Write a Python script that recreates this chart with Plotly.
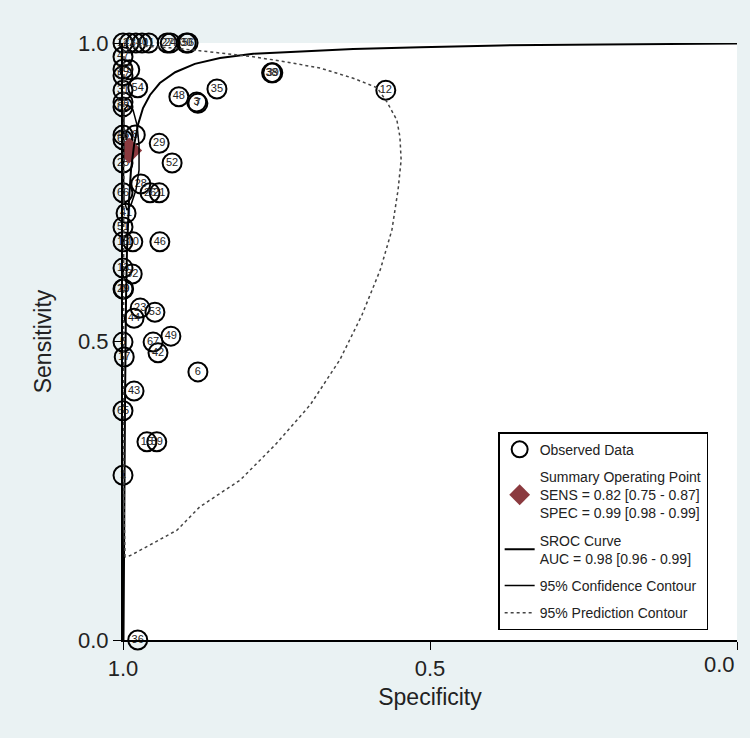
import plotly.graph_objects as go

# Observed studies (label, specificity, sensitivity)
study_labels = ["14", "22", "37", "40", "11", "27", "24", "30", "56",
                "47", "55", "9", "57", "31", "54", "58", "63", "45", "8", "62",
                "25", "66", "41", "51", "18", "10", "13", "32", "20", "19",
                "5", "17", "65", "1",
                "29", "52", "28", "26", "21", "46", "23", "53", "44", "67",
                "42", "49", "6", "43", "15", "59", "36", "48", "3", "7",
                "35", "38", "39", "12"]
study_spec = [1.0, 0.990, 0.979, 0.969, 0.958, 0.928, 0.923, 0.897, 0.894,
              1.0, 1.0, 0.989, 1.0, 1.0, 0.976, 1.0, 1.0, 1.0, 0.980, 1.0,
              1.0, 1.0, 0.995, 1.0, 1.0, 0.984, 1.0, 0.985, 1.0, 0.999,
              1.0, 0.998, 1.0, 1.0,
              0.941, 0.920, 0.971, 0.956, 0.941, 0.940, 0.972, 0.948, 0.982, 0.951,
              0.943, 0.922, 0.878, 0.982, 0.961, 0.945, 0.976, 0.909, 0.880, 0.878,
              0.847, 0.758, 0.756, 0.572]
study_sens = [1.0, 1.0, 1.0, 1.0, 1.0, 1.0, 1.0, 1.0, 1.0,
              0.977, 0.956, 0.955, 0.945, 0.921, 0.925, 0.901, 0.893, 0.846, 0.846, 0.838,
              0.799, 0.749, 0.715, 0.692, 0.667, 0.667, 0.623, 0.613, 0.588, 0.588,
              0.499, 0.474, 0.384, 0.276,
              0.832, 0.799, 0.764, 0.749, 0.749, 0.667, 0.556, 0.549, 0.539, 0.499,
              0.481, 0.509, 0.449, 0.417, 0.332, 0.332, 0.0, 0.910, 0.901, 0.899,
              0.923, 0.950, 0.950, 0.921]

# Summary operating point
summary_spec = [0.99]
summary_sens = [0.82]

# SROC curve
sroc_spec = [0.9992, 0.9984, 0.9967, 0.9951, 0.9935, 0.9902, 0.987, 0.982, 0.9756,
             0.9674, 0.956, 0.940, 0.915, 0.883, 0.842, 0.788, 0.733, 0.679, 0.625,
             0.516, 0.386, 0.223, 0.0]
sroc_sens = [0.0, 0.2345, 0.402, 0.570, 0.6533, 0.737, 0.787, 0.829, 0.863,
             0.891, 0.913, 0.933, 0.951, 0.965, 0.975, 0.982, 0.985, 0.988, 0.990,
             0.993, 0.996, 0.9975, 0.999]

# 95% confidence contour
conf_spec = [0.9984, 0.9919, 0.9837, 0.9772, 0.9739, 0.9739, 0.9788, 0.987, 0.9935,
             0.9984, 0.9992, 0.9992, 0.9984]
conf_sens = [0.888, 0.896, 0.888, 0.863, 0.829, 0.787, 0.754, 0.729, 0.720,
             0.737, 0.787, 0.838, 0.888]

# 95% prediction contour
pred_spec = [0.9967, 0.9984, 0.9992, 0.9992, 0.9992, 0.9992, 0.9984, 0.972, 0.923,
             0.875, 0.842, 0.788, 0.733, 0.679, 0.625, 0.586, 0.570, 0.554, 0.549,
             0.547, 0.552, 0.562, 0.581, 0.611, 0.647, 0.695, 0.752, 0.809, 0.875,
             0.912, 0.951, 0.989, 0.9967]
pred_sens = [0.139, 0.2345, 0.402, 0.570, 0.737, 0.905, 0.988, 0.995, 0.992,
             0.987, 0.983, 0.977, 0.968, 0.958, 0.941, 0.925, 0.901, 0.871, 0.843,
             0.804, 0.754, 0.687, 0.620, 0.544, 0.469, 0.394, 0.327, 0.268, 0.223,
             0.184, 0.162, 0.141, 0.139]

x_ticks = [1.0, 0.5, 0.0]
x_ticktext = ["1.0", "0.5", ""]  # "0.0" placed as a right-aligned annotation, like Stata

FONT = "Liberation Sans, Arial, sans-serif"

fig = go.Figure()

fig.add_trace(go.Scatter(
    x=study_spec, y=study_sens, mode="markers", name="Observed Data",
    legendgroup="obs",
    marker=dict(symbol="circle-open", size=19, color="black", line=dict(width=2)),
    cliponaxis=False
))
fig.add_trace(go.Scatter(
    x=study_spec, y=study_sens, mode="text", text=study_labels,
    textfont=dict(size=11, color="#222", family=FONT),
    showlegend=False, cliponaxis=False, hoverinfo="skip"
))
fig.add_trace(go.Scatter(
    x=summary_spec, y=summary_sens, mode="markers", legendgroup="sum",
    name="Summary Operating Point<br>SENS = 0.82 [0.75 - 0.87]<br>SPEC = 0.99 [0.98 - 0.99]",
    marker=dict(symbol="diamond", size=20, color="#8B3A3F")
))
fig.add_trace(go.Scatter(
    x=sroc_spec, y=sroc_sens, mode="lines", legendgroup="sroc",
    name="SROC Curve<br>AUC = 0.98 [0.96 - 0.99]",
    line=dict(color="black", width=2)
))
fig.add_trace(go.Scatter(
    x=conf_spec, y=conf_sens, mode="lines", name="95% Confidence Contour",
    legendgroup="conf", line=dict(color="black", width=1.5)
))
fig.add_trace(go.Scatter(
    x=pred_spec, y=pred_sens, mode="lines", name="95% Prediction Contour",
    legendgroup="pred", line=dict(color="#444", width=1.5, dash="dot")
))

fig.add_annotation(
    x=0.0, xref="x", y=0, yref="paper", yshift=-10,
    xanchor="right", yanchor="top", showarrow=False,
    text="0.0", font=dict(size=22, family=FONT, color="#222")
)

fig.update_layout(
    width=750, height=738,
    margin=dict(l=123, r=13, t=43, b=98),
    paper_bgcolor="#EAF2F3",
    plot_bgcolor="white",
    font=dict(family=FONT, color="#222"),
    legend=dict(
        x=0.611, y=0.348, xanchor="left", yanchor="top",
        bgcolor="white", bordercolor="black", borderwidth=1.5,
        font=dict(size=14, family=FONT), tracegroupgap=6,
        itemwidth=30
    ),
    xaxis=dict(
        range=[1.0, 0.0], tickvals=x_ticks, ticktext=x_ticktext,
        automargin=False,
        showgrid=False, zeroline=False, showline=True, linecolor="black",
        linewidth=2, ticks="outside", ticklen=8, tickcolor="black",
        tickfont=dict(size=22), title=dict(text="Specificity", font=dict(size=23), standoff=8)
    ),
    yaxis=dict(
        range=[0.0, 1.0], tickvals=[0.0, 0.5, 1.0], tickformat=".1f",
        automargin=False,
        showgrid=False, zeroline=False, showline=True, linecolor="black",
        linewidth=2, ticks="outside", ticklen=8, tickcolor="black",
        tickfont=dict(size=22), title=dict(text="Sensitivity", font=dict(size=23), standoff=20)
    ),
)

fig.write_html("out.html", config={"displayModeBar": False},
               post_script="document.body.style.margin='0px';")
